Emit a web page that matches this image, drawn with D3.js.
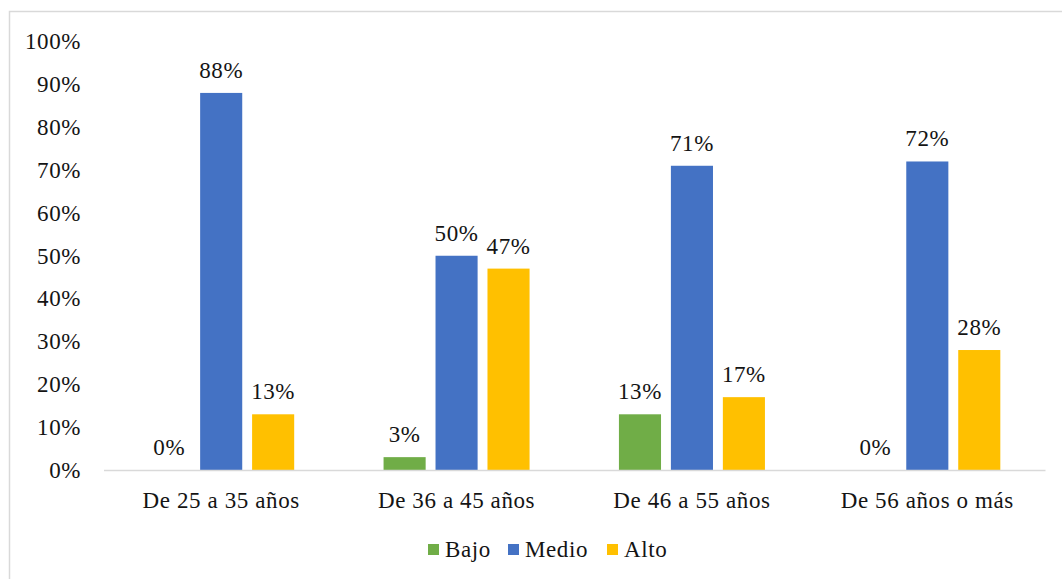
<!DOCTYPE html>
<html>
<head>
<meta charset="utf-8">
<script src="https://cdn.jsdelivr.net/npm/d3@7"></script>
<style>
  html, body { margin: 0; padding: 0; background: #fff; }
  svg { display: block; }
</style>
</head>
<body>
<svg id="chart" width="1062" height="579"></svg>
<script>
// Age groups on the category axis
const categories = ["De 25 a 35 años", "De 36 a 45 años", "De 46 a 55 años", "De 56 años o más"];
// Level series (share of respondents per age group)
const seriesNames = ["Bajo", "Medio", "Alto"];
const bajo  = [0.00, 0.03, 0.13, 0.00];
const medio = [0.88, 0.50, 0.71, 0.72];
const alto  = [0.13, 0.47, 0.17, 0.28];
const seriesColors = ["#70AD47", "#4472C4", "#FFC000"];
const yTicks = [0, 0.1, 0.2, 0.3, 0.4, 0.5, 0.6, 0.7, 0.8, 0.9, 1.0];

const seriesValues = [bajo, medio, alto];
const rows = categories.map((c, i) => ({
  category: c,
  values: seriesNames.map((s, j) => ({ series: s, value: seriesValues[j][i] }))
}));

const svg = d3.select("#chart");
const W = 1062, H = 579;
const plot = { left: 103.5, right: 1045, top: 41.5, bottom: 470 };
const FONT_FAMILY = "'Liberation Serif', 'Times New Roman', serif";
const FONT = 23;
const TRACK = "0.6px";
const INK = "#141414";

function styleText(sel) {
  return sel.style("font-family", FONT_FAMILY)
    .style("font-size", FONT + "px")
    .style("letter-spacing", TRACK)
    .attr("fill", INK);
}

// Chart frame
svg.append("rect")
  .attr("x", 9.5).attr("y", 11.5)
  .attr("width", W + 20).attr("height", H + 20)
  .attr("fill", "#fff").attr("stroke", "#d9d9d9").attr("stroke-width", 1.5);

const x0 = d3.scaleBand().domain(categories).range([plot.left, plot.right]).padding(0);
const x1 = d3.scaleBand().domain(seriesNames).range([0, x0.bandwidth()])
  .paddingInner(0.19).paddingOuter(0.86);
const y = d3.scaleLinear().domain([0, 1]).range([plot.bottom, plot.top]);
const color = d3.scaleOrdinal().domain(seriesNames).range(seriesColors);
const pct = d3.format(".0%");

// Y axis labels (no axis line, no ticks)
const yAxis = d3.axisLeft(y).tickValues(yTicks).tickFormat(pct).tickSize(0).tickPadding(0);
const gy = svg.append("g").attr("transform", `translate(81,0)`).call(yAxis);
gy.select(".domain").remove();
styleText(gy.selectAll("text"));

// Bars
const groups = svg.append("g").selectAll("g").data(rows).join("g")
  .attr("transform", d => `translate(${x0(d.category)},0)`);

groups.selectAll("rect").data(d => d.values).join("rect")
  .attr("x", d => x1(d.series))
  .attr("width", x1.bandwidth())
  .attr("y", d => y(d.value))
  .attr("height", d => y(0) - y(d.value))
  .attr("fill", d => color(d.series));

// Value labels
styleText(groups.selectAll("text.val").data(d => d.values).join("text")
  .attr("class", "val")
  .attr("x", d => x1(d.series) + x1.bandwidth() / 2)
  .attr("y", d => y(d.value) - 15)
  .attr("text-anchor", "middle")
  .text(d => pct(d.value)));

// Category axis
const xAxis = d3.axisBottom(x0).tickSize(0).tickPadding(0);
const gx = svg.append("g").attr("transform", `translate(0,${plot.bottom})`).call(xAxis);
gx.select(".domain").attr("stroke", "#d9d9d9").attr("stroke-width", 1.5);
styleText(gx.selectAll("text").attr("dy", null).attr("y", 38));

// Legend
const legendItems = [
  { name: "Bajo", x: 428 },
  { name: "Medio", x: 508 },
  { name: "Alto", x: 607 }
];
const lg = svg.append("g").selectAll("g").data(legendItems).join("g")
  .attr("transform", d => `translate(${d.x},544)`);
lg.append("rect").attr("width", 11).attr("height", 11).attr("fill", d => color(d.name));
styleText(lg.append("text").attr("x", 17).attr("y", 13).text(d => d.name));
</script>
</body>
</html>
